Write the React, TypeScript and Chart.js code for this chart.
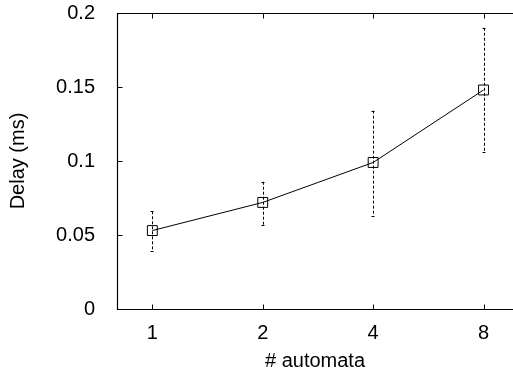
import React, { useEffect, useRef } from "react";
import { Chart, registerables } from "chart.js";

Chart.register(...registerables);

const categories = ["1", "2", "4", "8"];
const delay = [0.053, 0.072, 0.099, 0.148];
const errLow = [0.039, 0.057, 0.063, 0.106];
const errHigh = [0.066, 0.086, 0.134, 0.19];
const yTicks = [0, 0.05, 0.1, 0.15, 0.2];

const FONT = "'Liberation Sans', Helvetica, Arial, sans-serif";

const framePlugin = {
  id: "frame",
  beforeDatasetsDraw(chart: any) {
    const { ctx, scales } = chart;
    const x = scales.x;
    const y = scales.y;
    ctx.save();
    ctx.strokeStyle = "#000";
    ctx.lineWidth = 1;
    ctx.setLineDash([3, 2]);
    delay.forEach((_, i) => {
      const px = Math.round(x.getPixelForValue(i)) + 0.5;
      const yt = y.getPixelForValue(errHigh[i]);
      const yb = y.getPixelForValue(errLow[i]);
      ctx.beginPath();
      ctx.moveTo(px, yt);
      ctx.lineTo(px, yb);
      ctx.stroke();
    });
    ctx.setLineDash([]);
    delay.forEach((_, i) => {
      const px = Math.round(x.getPixelForValue(i)) + 0.5;
      const yt = Math.round(y.getPixelForValue(errHigh[i])) + 0.5;
      const yb = Math.round(y.getPixelForValue(errLow[i])) + 0.5;
      ctx.beginPath();
      ctx.moveTo(px - 2, yt);
      ctx.lineTo(px + 1, yt);
      ctx.moveTo(px - 2, yb);
      ctx.lineTo(px + 1, yb);
      ctx.stroke();
    });
    ctx.restore();
  },
  afterDraw(chart: any) {
    const { ctx, chartArea, scales } = chart;
    const { left, top, right, bottom } = chartArea;
    const x = scales.x;
    const y = scales.y;
    ctx.save();
    ctx.strokeStyle = "#000";
    ctx.lineWidth = 1.2;
    const l = Math.round(left) + 0.5;
    const t = Math.round(top) + 0.5;
    const b = Math.round(bottom) + 0.5;
    ctx.beginPath();
    ctx.moveTo(right + 20, t);
    ctx.lineTo(l, t);
    ctx.lineTo(l, b);
    ctx.lineTo(right + 20, b);
    ctx.stroke();
    ctx.lineWidth = 1;
    ctx.beginPath();
    categories.forEach((_, i) => {
      const px = Math.round(x.getPixelForValue(i)) + 0.5;
      ctx.moveTo(px, b);
      ctx.lineTo(px, b - 5);
      ctx.moveTo(px, t);
      ctx.lineTo(px, t + 5);
    });
    yTicks.forEach((v) => {
      const py = Math.round(y.getPixelForValue(v)) + 0.5;
      ctx.moveTo(l, py);
      ctx.lineTo(l + 5, py);
    });
    ctx.stroke();
    ctx.restore();
  },
};

export default function App() {
  const ref = useRef<HTMLCanvasElement>(null);
  useEffect(() => {
    if (!ref.current) return;
    const chart = new Chart(ref.current, {
      type: "line",
      data: {
        datasets: [
          {
            data: delay.map((v, i) => ({ x: i, y: v })),
            borderColor: "#000",
            borderWidth: 1,
            pointStyle: "rect",
            pointRadius: 7,
            pointBorderWidth: 1,
            pointBorderColor: "#000",
            pointBackgroundColor: "rgba(0,0,0,0)",
            fill: false,
            tension: 0,
          },
        ],
      },
      options: {
        animation: false,
        responsive: false,
        devicePixelRatio: 1,
        layout: { autoPadding: false, padding: { top: 13, left: 0, right: 0, bottom: 0 } },
        plugins: { legend: { display: false }, tooltip: { enabled: false } },
        scales: {
          x: {
            type: "linear",
            min: -0.32,
            max: 3.267,
            grid: { display: false },
            border: { display: false },
            afterBuildTicks: (s: any) => {
              s.ticks = categories.map((_, i) => ({ value: i }));
            },
            ticks: {
              autoSkip: false,
              maxRotation: 0,
              padding: 4,
              color: "#000",
              font: { family: FONT, size: 20 },
              callback: (_v: any, i: number) => categories[i],
            },
            title: {
              display: true,
              text: "# automata",
              color: "#000",
              font: { family: FONT, size: 20 },
              padding: { top: 0, bottom: 3 },
            },
            afterFit: (s: any) => {
              s.height = 67;
              s.paddingLeft = 0;
              s.paddingRight = 0;
            },
          },
          y: {
            type: "linear",
            min: 0,
            max: 0.2,
            grid: { display: false },
            border: { display: false },
            afterBuildTicks: (s: any) => {
              s.ticks = yTicks.map((v) => ({ value: v }));
            },
            ticks: {
              padding: 14,
              color: "#000",
              font: { family: FONT, size: 20 },
              callback: (v: any) => String(Number(Number(v).toFixed(2))),
            },
            title: {
              display: true,
              text: "Delay (ms)",
              color: "#000",
              font: { family: FONT, size: 20 },
              padding: { top: 6, bottom: 0 },
            },
            afterFit: (s: any) => {
              s.width = 117;
              s.paddingTop = 0;
              s.paddingBottom = 0;
            },
          },
        },
      },
      plugins: [framePlugin],
    });
    return () => chart.destroy();
  }, []);
  return (
    <div style={{ position: "absolute", left: 0, top: 0, width: 513, height: 376, background: "#fff" }}>
      <canvas ref={ref} width={513} height={376} />
    </div>
  );
}
